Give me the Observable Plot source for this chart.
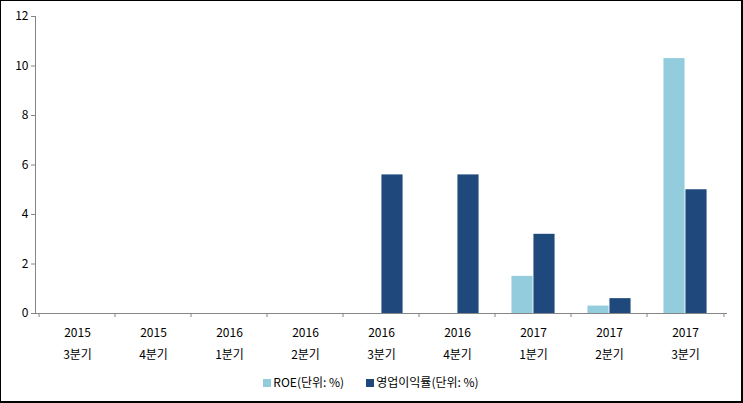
<!DOCTYPE html>
<html><head><meta charset="utf-8">
<script src="https://cdn.jsdelivr.net/npm/d3@7"></script>
<script src="https://cdn.jsdelivr.net/npm/@observablehq/plot@0.6"></script>
<style>
body{margin:0;background:#fff;}
#box{position:relative;width:743px;height:403px;box-sizing:border-box;border-top:1px solid #000;border-left:1px solid #000;border-right:2px solid #000;border-bottom:2px solid #000;overflow:hidden;font-family:"Noto Sans CJK KR","Noto Sans",sans-serif;}
#chart{position:absolute;left:0;top:0;}
#legend{position:absolute;left:0;width:740px;top:372px;display:flex;justify-content:center;gap:22px;font-size:12px;color:#000;}
#legend span.sw{display:inline-block;width:8px;height:8px;margin-right:2px;vertical-align:middle;position:relative;top:-1px;}
</style></head>
<body>
<div id="box"><div id="chart"></div><div id="legend"></div></div>
<script>
const years = ["2015","2015","2016","2016","2016","2016","2017","2017","2017"];
const quarters = ["3분기","4분기","1분기","2분기","3분기","4분기","1분기","2분기","3분기"];
const roe = [0,0,0,0,0,0,1.5,0.3,10.3];
const opMargin = [0,0,0,0,5.6,5.6,3.2,0.6,5.0];
const seriesNames = ["ROE(단위: %)","영업이익률(단위: %)"];
const colors = ["#93CDDD","#1F497D"];
const yTicks = [0,2,4,6,8,10,12];

const cats = years.map((y,i)=>y+"\n"+quarters[i]);
const rows = [];
cats.forEach((c,i)=>{
  rows.push({cat:c, s:seriesNames[0], v:roe[i]});
  rows.push({cat:c, s:seriesNames[1], v:opMargin[i]});
});
const W = 740, H = 365, ml = 34, mr = 14, mt = 15, mb = 53;
const bw = (W-ml-mr)/cats.length;
const barW = 22;
const outer = bw/2 - barW;

const chart = Plot.plot({
  width: W, height: H,
  marginLeft: ml, marginRight: mr, marginTop: mt, marginBottom: mb,
  style: {fontFamily: '"Noto Sans CJK KR","Noto Sans",sans-serif', fontSize: "12px", color:"#000", background:"#fff"},
  x: {domain: cats, padding: 0, label: null},
  y: {domain: [0,12], label: null},
  marks: [
    Plot.barY(rows.filter(d=>d.s===seriesNames[0] && d.v>0), {x:"cat", y:"v", fill: colors[0], insetLeft: outer, insetRight: outer+barW}),
    Plot.barY(rows.filter(d=>d.s===seriesNames[1] && d.v>0), {x:"cat", y:"v", fill: colors[1], insetLeft: outer+barW, insetRight: outer}),
    Plot.axisY({ticks: yTicks, tickSize: 4, tickPadding: 3, stroke: "#868686", fill:"#000", label: null}),
    Plot.frame({anchor:"left", stroke:"#868686"}),
    Plot.ruleY([0], {stroke:"#868686"}),
    Plot.ruleX(cats, {x: d=>d, dx: -bw/2, y1: 0, y2: 0, insetBottom: -4, stroke:"#868686"}),
    Plot.ruleX([cats[cats.length-1]], {x: d=>d, dx: bw/2, y1: 0, y2: 0, insetBottom: -4, stroke:"#868686"}),
    Plot.axisX({tickSize: 0, tickPadding: 8, lineHeight: 1.85, fill:"#000", label: null})
  ]
});
document.getElementById("chart").appendChild(chart);
const lg = document.getElementById("legend");
seriesNames.forEach((n,i)=>{
  const d = document.createElement("div");
  d.innerHTML = `<span class="sw" style="background:${colors[i]}"></span>${n}`;
  lg.appendChild(d);
});
</script>
</body></html>
